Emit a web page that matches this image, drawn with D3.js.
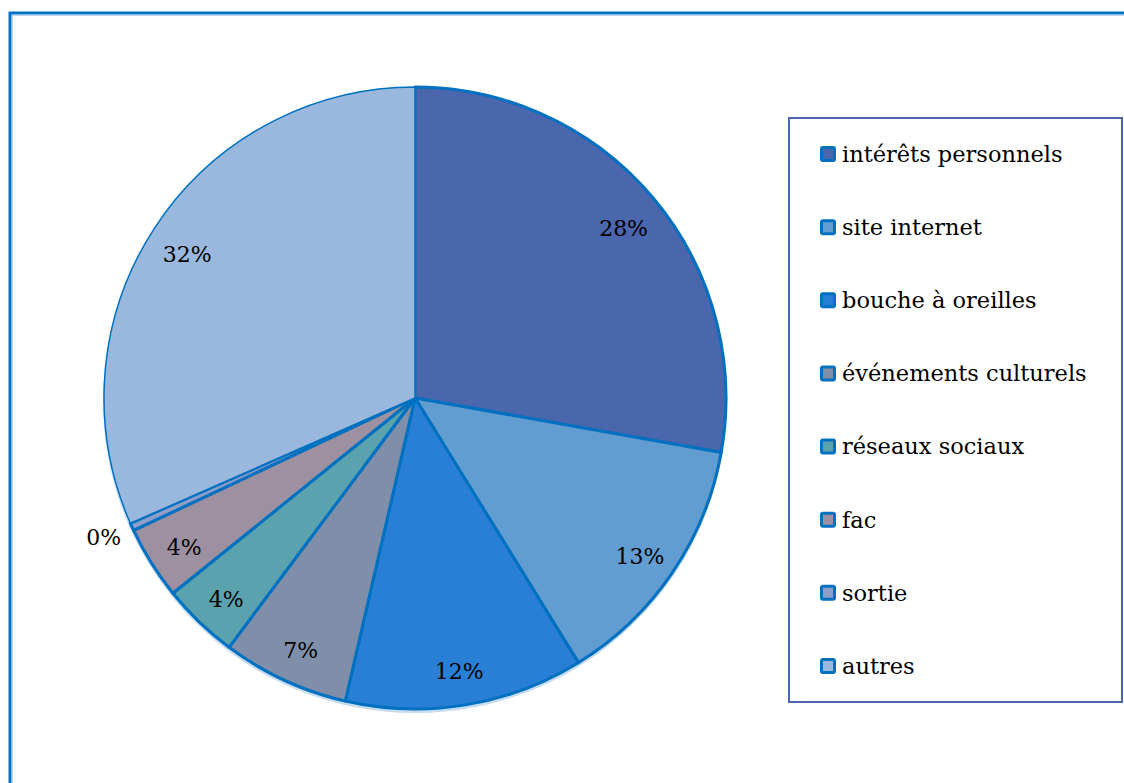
<!DOCTYPE html>
<html>
<head>
<meta charset="utf-8">
<script src="https://cdn.jsdelivr.net/npm/d3@7"></script>
<style>
  body { margin: 0; background: #fff; }
  svg { display: block; }
</style>
</head>
<body>
<div id="chart"></div>
<script>
const w = 1124;
const h = 783;

// data
const categories = ["intérêts personnels", "site internet", "bouche à oreilles",
    "événements culturels", "réseaux sociaux", "fac", "sortie", "autres"];
const values = [27.8, 13.4, 12.4, 6.6, 4.0, 3.8, 0.4, 31.6];
const colors = ["#4A66AC", "#629DD1", "#297FD5", "#7F8FA9",
    "#5AA2AE", "#9D90A0", "#8E9DC9", "#9AB8DD"];

const font = "'DejaVu Serif', 'Liberation Serif', serif";
const cx = 415, cy = 398, radius = 311;

const svg = d3.select("#chart")
    .append("svg")
    .attr("width", w)
    .attr("height", h);

// outer frame
svg.append("rect")
    .attr("x", 10).attr("y", 13)
    .attr("width", w + 20).attr("height", h + 20)
    .attr("fill", "none")
    .attr("stroke", "#0070C0")
    .attr("stroke-width", 3);
svg.append("rect")
    .attr("x", 12.5).attr("y", 15.5)
    .attr("width", w + 20).attr("height", h + 20)
    .attr("fill", "none")
    .attr("stroke", "#BDD7EE")
    .attr("stroke-width", 1);

const data = categories.map((c, i) => ({ name: c, value: values[i], color: colors[i] }));
const total = d3.sum(values);

const pie = d3.pie()
    .value(d => d.value)
    .sort(null);

const arcs = pie(data);

const arc = d3.arc()
    .innerRadius(0)
    .outerRadius(radius);

const labelArc = d3.arc()
    .innerRadius(radius * 0.875)
    .outerRadius(radius * 0.875);

const outerArc = d3.arc()
    .innerRadius(radius + 12)
    .outerRadius(radius + 12);

const g = svg.append("g")
    .attr("transform", `translate(${cx},${cy})`);

// faint shadow
g.append("circle")
    .attr("cx", 0).attr("cy", 3)
    .attr("r", radius + 1)
    .attr("fill", "#9DC3E6")
    .attr("opacity", 0.6);

g.selectAll(".slice")
    .data(arcs)
    .enter()
    .append("path")
    .attr("class", "slice")
    .attr("d", arc)
    .attr("fill", d => d.data.color)
    .attr("stroke", "#0070C0")
    .attr("stroke-width", d => d.index === 7 ? 1.5 : 3)
    .attr("stroke-linejoin", "round");

// percentage labels
g.selectAll(".label")
    .data(arcs)
    .enter()
    .append("text")
    .attr("class", "label")
    .attr("transform", d => {
        const p = d.data.value < 1 ? outerArc.centroid(d) : labelArc.centroid(d);
        return `translate(${p[0]},${p[1] + 5})`;
    })
    .attr("text-anchor", d => d.data.value < 1 ? "end" : "middle")
    .attr("dy", "0.35em")
    .attr("font-family", font)
    .attr("font-size", 22)
    .attr("fill", "#000")
    .text(d => Math.round(d.data.value / total * 100) + "%");

// legend
const legend = svg.append("g");

legend.append("rect")
    .attr("x", 789).attr("y", 118)
    .attr("width", 333).attr("height", 584)
    .attr("fill", "#fff")
    .attr("stroke", "#4A66AC")
    .attr("stroke-width", 2);

const rowY = d3.scalePoint()
    .domain(categories)
    .range([154, 666]);

const item = legend.selectAll(".item")
    .data(data)
    .enter()
    .append("g")
    .attr("class", "item")
    .attr("transform", d => `translate(820,${rowY(d.name)})`);

item.append("rect")
    .attr("x", 1.5).attr("y", -6.5)
    .attr("width", 13).attr("height", 13)
    .attr("rx", 1.5)
    .attr("fill", d => d.color)
    .attr("stroke", "#0070C0")
    .attr("stroke-width", 3);

item.append("text")
    .attr("x", 22)
    .attr("dy", "0.35em")
    .attr("font-family", font)
    .attr("font-size", 22.5)
    .attr("fill", "#000")
    .text(d => d.name);
</script>
</body>
</html>
